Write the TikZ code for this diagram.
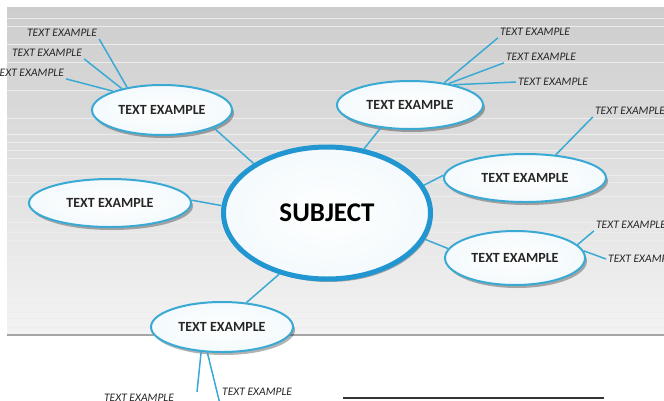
\documentclass[tikz,border=0pt]{standalone}
\usepackage{fontspec}
\setmainfont{Carlito}
\usetikzlibrary{shapes.geometric,shadows}
\definecolor{mapblue}{HTML}{2196D0}
\definecolor{linkblue}{HTML}{3AAAD4}
\definecolor{bgtop}{HTML}{CDCDCD}
\definecolor{bgbot}{HTML}{F3F3F3}
\begin{document}
\begin{tikzpicture}[x=1pt,y=-1pt,
  bubble/.style={ellipse,draw=linkblue,line width=2pt,inner sep=0pt,
    inner color=white,outer color=linkblue!6,
    font=\fontsize{14}{16}\selectfont\bfseries,text=black!85,
    drop shadow={shadow xshift=2pt,shadow yshift=-3pt,fill=black,opacity=0.3}},
  leaf/.style={inner sep=2pt,font=\fontsize{11.5}{13}\selectfont\itshape,text=black!85},
  link/.style={linkblue,line width=1.5pt}]
\useasboundingbox (0,0) rectangle (664,400);
\clip (0,0) rectangle (664,400);
%backdrop
\fill[white] (0,0) rectangle (664,400);
\shade[top color=bgtop,bottom color=bgbot] (7,7) rectangle (664,335);
\foreach \ky in {18,26,44,62,90,118,134,142,150,158,175,182,196,222,232,240,256,272,290,303,312,318,327}
  \draw[black!7,line width=0.7pt] (7,\ky) -- (664,\ky);
\draw[black!35,line width=1.5pt] (7,335) -- (664,335);
\draw[black!80,line width=2pt] (343,398) -- (604,398);
%bubbles
\node[bubble,minimum width=207pt,minimum height=132pt,line width=5pt,draw=mapblue,
  font=\fontsize{27}{30}\selectfont\bfseries,text=black] (sub) at (327,213) {SUBJECT};
\node[bubble,minimum width=140pt,minimum height=50pt] (tl) at (162,110) {TEXT EXAMPLE};
\node[bubble,minimum width=146pt,minimum height=48pt] (tr) at (410,105) {TEXT EXAMPLE};
\node[bubble,minimum width=162pt,minimum height=48pt] (le) at (110,203) {TEXT EXAMPLE};
\node[bubble,minimum width=162pt,minimum height=48pt] (ru) at (525,178) {TEXT EXAMPLE};
\node[bubble,minimum width=140pt,minimum height=54pt] (rl) at (515,258) {TEXT EXAMPLE};
\node[bubble,minimum width=142pt,minimum height=50pt] (bt) at (222,327) {TEXT EXAMPLE};
%leaves
\node[leaf] (tl1) at (62,33) {TEXT EXAMPLE};
\node[leaf] (tl2) at (47,53) {TEXT EXAMPLE};
\node[leaf] (tl3) at (29,73) {TEXT EXAMPLE};
\node[leaf] (tr1) at (535,32) {TEXT EXAMPLE};
\node[leaf] (tr2) at (541,57) {TEXT EXAMPLE};
\node[leaf] (tr3) at (553,82) {TEXT EXAMPLE};
\node[leaf] (ru1) at (630,111) {TEXT EXAMPLE};
\node[leaf] (rl1) at (631,225) {TEXT EXAMPLE};
\node[leaf,anchor=west] (rl2) at (606,259) {TEXT EXAMPLE};
\node[leaf] (bt1) at (139,398) {TEXT EXAMPLE};
\node[leaf,anchor=west] (bt2) at (220,392) {TEXT EXAMPLE};
\coordinate (bend1) at (197,392);
\coordinate (bend2) at (220,404);
%links
\draw[link] (sub.146) -- (tl.-19);
\draw[link] (sub.60) -- (tr.218);
\draw[link] (sub.176) -- (le.2);
\draw[link] (sub.16) -- (ru.178);
\draw[link] (sub.-15) -- (rl.172);
\draw[link] (sub.232) -- (bt.45);
\draw[link] (tl.147) -- (tl1.south east);
\draw[link] (tl.152) -- (tl2.south east);
\draw[link] (tl.159) -- (tl3.south east);
\draw[link] (tr.33) -- (tr1.south west);
\draw[link] (tr.29) -- (tr2.south west);
\draw[link] (tr.25) -- (tr3.west);
\draw[link] (ru.37) -- (ru1.south west);
\draw[link] (rl.12) -- (rl1.south west);
\draw[link] (rl.6) -- (rl2.west);
\draw[link] (bt.230) -- (bend1);
\draw[link] (bt.240) -- (bend2);
\end{tikzpicture}
\end{document}
